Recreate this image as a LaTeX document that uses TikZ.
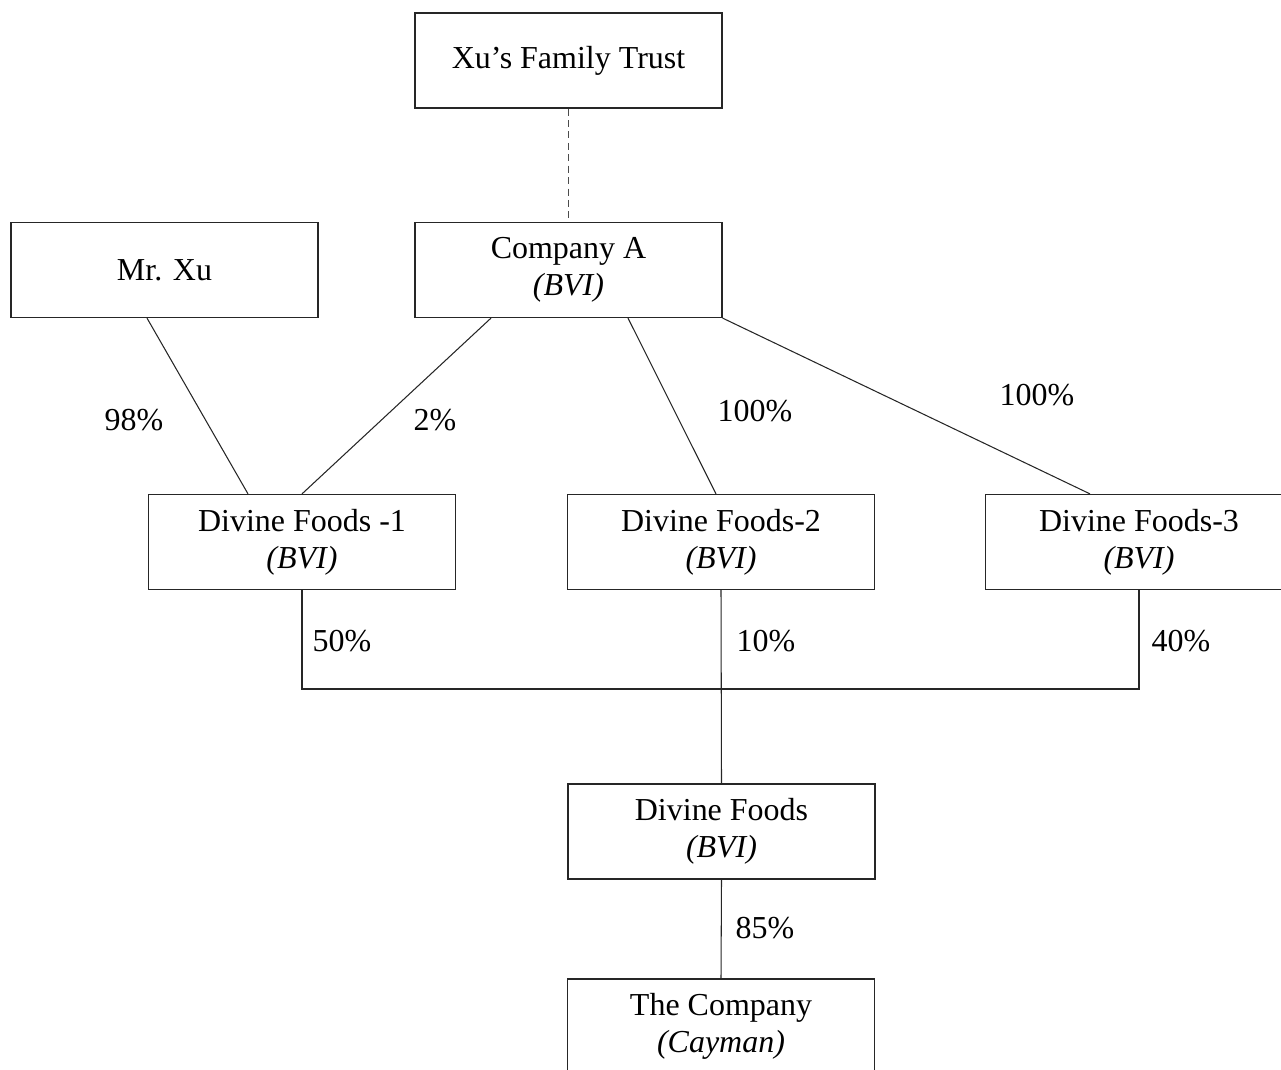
\documentclass[tikz,border=0pt]{standalone}
\usepackage{fontspec}
\setmainfont{Liberation Serif}
\usetikzlibrary{positioning,calc}

\begin{document}
\begin{tikzpicture}[x=0.02cm,y=-0.02cm,
		entity/.style={draw=black!85,line width=0.7pt,minimum width=6.14cm,minimum height=1.9cm,
			align=center,inner sep=0pt,font=\fontsize{18.2}{21.2}\selectfont},
		pct/.style={font=\fontsize{18.2}{21.2}\selectfont,inner sep=0pt},
		link/.style={draw=black!85,line width=0.6pt}]
		
		\useasboundingbox (0,0) rectangle (1281,1070);
		
		\node[entity] (trust) at (568.5,60.5) {Xu's Family Trust};
		
		\node[entity] (xu) at (164.5,270) {Mr. Xu};
		
		\node[entity] (compA) at (568.5,270) {Company A\\\textit{(BVI)}};
		
		\node[entity] (df1) at (302,542) {Divine Foods -1\\\textit{(BVI)}};
		\node[entity] (df2) at (721,542) {Divine Foods-2\\\textit{(BVI)}};
		\node[entity] (df3) at (1139,542) {Divine Foods-3\\\textit{(BVI)}};
		
		\node[entity] (df) at (721.5,831.5) {Divine Foods\\\textit{(BVI)}};
		
		\node[entity] (co) at (721,1026.5) {The Company\\\textit{(Cayman)}};
		
		\coordinate (bar) at (721,689);
		
		\draw[link,dash pattern=on 4pt off 2.5pt,draw=black!70] (trust.south) -- (compA.north);
		
		\draw[link] ([xshift=-17.5*0.02cm]xu.south) -- ([xshift=-54*0.02cm]df1.north);
		\draw[link] ([xshift=-77.5*0.02cm]compA.south) -- (df1.north);
		\draw[link] ([xshift=59.5*0.02cm]compA.south) -- ([xshift=-5*0.02cm]df2.north);
		\draw[link] (compA.south east) -- ([xshift=-49*0.02cm]df3.north);
		
		\draw[link] (df1.south) |- (bar) -| (df3.south);
		\draw[link] (df2.south) -- (df.north);
		\draw[link] (df.south) -- (co.north);
		
		\node[pct] (p98) at (134,420) {98\%};
		\node[pct] (p2) at (435,420) {2\%};
		\node[pct] (p100a) at (755,411) {100\%};
		\node[pct] (p100b) at (1037,395) {100\%};
		
		\node[pct] (p50) at (342,641) {50\%};
		\node[pct] (p10) at (766,641) {10\%};
		\node[pct] (p40) at (1181,641) {40\%};
		
		\node[pct] (p85) at (765,928) {85\%};
		
	\end{tikzpicture}
\end{document}
